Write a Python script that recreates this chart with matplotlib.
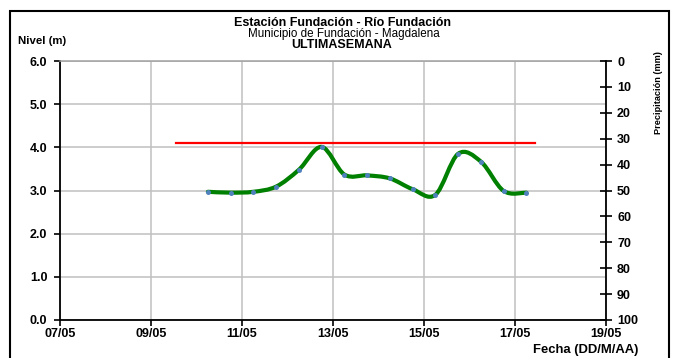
import matplotlib
matplotlib.use("Agg")
import matplotlib.pyplot as plt
from matplotlib.path import Path
from matplotlib.patches import PathPatch, Rectangle
import numpy as np

# ---- data ----
days = [10.25, 10.75, 11.25, 11.75, 12.25, 12.75, 13.25, 13.75,
        14.25, 14.75, 15.25, 15.75, 16.25, 16.75, 17.25]
nivel = [2.97, 2.95, 2.97, 3.09, 3.48, 4.01, 3.37, 3.35,
         3.28, 3.03, 2.90, 3.85, 3.67, 2.99, 2.95]
alarm_days = [9.55, 17.45]
alarm_level = [4.1, 4.1]
xtick_vals = [7, 9, 11, 13, 15, 17, 19]
xtick_labels = ["07/05", "09/05", "11/05", "13/05", "15/05", "17/05", "19/05"]
ytick_vals = [0, 1, 2, 3, 4, 5, 6]
ytick_labels = ["0.0", "1.0", "2.0", "3.0", "4.0", "5.0", "6.0"]
precip_ticks = list(range(0, 101, 10))

plt.rcParams['font.family'] = ['Liberation Sans', 'DejaVu Sans']

W, H = 676, 358
fig = plt.figure(figsize=(W / 100, H / 100), dpi=100)
fig.patch.set_facecolor('white')

# outer border
fig.patches.append(Rectangle((10 / W, -0.02), (669 - 10) / W, (H - 11) / H + 0.02,
                             transform=fig.transFigure, fill=False,
                             edgecolor='black', linewidth=1.5, zorder=10))

TF = 9
ax = fig.add_axes([60 / W, (H - 320) / H, (606 - 60) / W, (320 - 61) / H])
ax.set_xlim(7, 19)
ax.set_ylim(0, 6)
ax.set_xticks(xtick_vals)
ax.set_xticklabels(xtick_labels, fontweight='bold', fontsize=TF)
ax.set_yticks(ytick_vals)
ax.set_yticklabels(ytick_labels, fontweight='bold', fontsize=TF)
ax.tick_params(axis='x', direction='out', length=4, width=1.2, pad=1.5)
ax.tick_params(axis='y', direction='out', length=4, width=1.2, pad=5)
ax.grid(True, color='#C0C0C0', linewidth=1.1)
ax.set_axisbelow(True)
for s in ['left', 'bottom']:
    ax.spines[s].set_linewidth(1.3)
    ax.spines[s].set_color('black')
ax.spines['top'].set_color('#A0A0A0')
ax.spines['top'].set_linewidth(1.1)
ax.spines['right'].set_visible(False)

# alarm line
ax.plot(alarm_days, alarm_level, color='#FF0000', linewidth=1.6, zorder=3)

# smoothed level line (Bezier through data points)
pts = np.column_stack([days, nivel])
n = len(pts)
verts = [tuple(pts[0])]
codes = [Path.MOVETO]
for i in range(n - 1):
    p0 = pts[i - 1] if i > 0 else pts[i]
    p1 = pts[i]
    p2 = pts[i + 1]
    p3 = pts[i + 2] if i + 2 < n else pts[i + 1]
    c1 = p1 + (p2 - p0) / 6.0
    c2 = p2 - (p3 - p1) / 6.0
    verts += [tuple(c1), tuple(c2), tuple(p2)]
    codes += [Path.CURVE4] * 3
ax.add_patch(PathPatch(Path(verts, codes), fill=False, edgecolor='#008000',
                       linewidth=3.0, capstyle='round', joinstyle='round', zorder=4))
ax.plot(days, nivel, 'o', color='#4F81BD', markersize=3.6, zorder=5, markeredgewidth=0)

# secondary axis (precipitation)
ax2 = ax.twinx()
ax2.set_ylim(100, 0)
ax2.set_yticks(precip_ticks)
ax2.set_yticklabels([str(v) for v in precip_ticks], fontweight='bold', fontsize=TF)
ax2.tick_params(axis='y', direction='inout', length=8, width=1.2, pad=4)
ax2.spines['right'].set_linewidth(1.3)
ax2.spines['right'].set_color('black')
for s in ['left', 'top', 'bottom']:
    ax2.spines[s].set_visible(False)

# titles and labels
fig.text(342 / W, 1 - 26.5 / H, "Estación Fundación - Río Fundación", ha='center', va='baseline',
         fontsize=9.0, fontweight='bold')
fig.text(344 / W, 1 - 37 / H, "Municipio de Fundación - Magdalena", ha='center', va='baseline',
         fontsize=8.4)
fig.text(342 / W, 1 - 47.5 / H, "ULTIMASEMANA", ha='center', va='baseline',
         fontsize=9.0, fontweight='bold')
fig.text(18 / W, 1 - 41.5 / H, "Nivel (m)", ha='left', va='center',
         fontsize=8.2, fontweight='bold')
fig.text(638 / W, 1 - 350.5 / H, "Fecha (DD/M/AA)", ha='right', va='center',
         fontsize=9.4, fontweight='bold')
fig.text(658.5 / W, 1 - 51 / H, "Precipitación (mm)", ha='center', va='top',
         rotation=90, fontsize=6.6, fontweight='bold')

fig.savefig("out.png", dpi=100)
